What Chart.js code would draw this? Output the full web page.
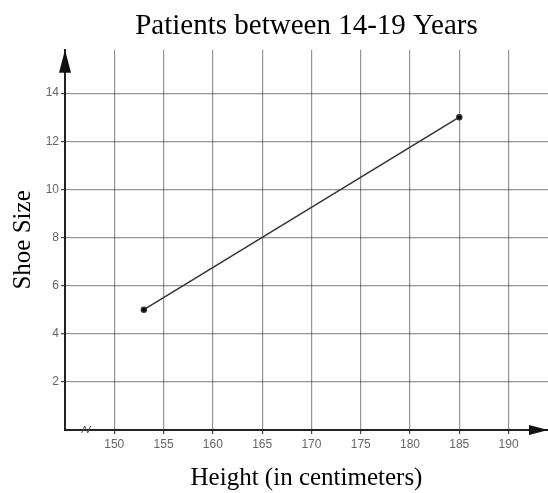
<!DOCTYPE html>
<html>
<head>
<meta charset="utf-8">
<script src="https://cdn.jsdelivr.net/npm/chart.js@4/dist/chart.umd.min.js"></script>
<style>
  body { margin: 0; background: #fff; }
  #wrap { width: 548px; height: 493px; position: relative; }
</style>
</head>
<body>
<div id="wrap"><canvas id="chart"></canvas></div>
<script>
// data
const heights = [153, 185];
const shoeSizes = [5, 13];
const xTicks = [150, 155, 160, 165, 170, 175, 180, 185, 190];
const yTicks = [2, 4, 6, 8, 10, 12, 14];
const xBreakAt = 147;

// arrows at the ends of the axes + the little break mark on x
const axisArrows = {
  id: 'axisArrows',
  afterDraw(chart) {
    const ctx = chart.ctx;
    const a = chart.chartArea;
    const x = chart.scales.x;
    ctx.save();
    ctx.fillStyle = '#111';
    // up arrow on y axis
    ctx.beginPath();
    ctx.moveTo(a.left, a.top);
    ctx.lineTo(a.left - 6, a.top + 23);
    ctx.lineTo(a.left + 6, a.top + 23);
    ctx.closePath();
    ctx.fill();
    // right arrow on x axis
    ctx.beginPath();
    ctx.moveTo(a.right, a.bottom);
    ctx.lineTo(a.right - 19, a.bottom - 5);
    ctx.lineTo(a.right - 19, a.bottom + 5);
    ctx.closePath();
    ctx.fill();
    // axis break
    const bx = x.getPixelForValue(xBreakAt);
    ctx.strokeStyle = '#555';
    ctx.lineWidth = 1;
    ctx.beginPath();
    ctx.moveTo(bx - 3, a.bottom + 3);
    ctx.lineTo(bx, a.bottom - 4);
    ctx.lineTo(bx + 3, a.bottom + 3);
    ctx.lineTo(bx + 6, a.bottom - 4);
    ctx.stroke();
    ctx.restore();
  }
};

const gridColor = 'rgba(0,0,0,0.42)';
const tickFont = { family: 'Liberation Sans', size: 12 };
const titleFont = { family: 'Liberation Serif', size: 25, weight: 'normal' };

new Chart(document.getElementById('chart').getContext('2d'), {
  type: 'scatter',
  data: {
    datasets: [{
      data: heights.map((h, i) => ({ x: h, y: shoeSizes[i] })),
      showLine: true,
      borderColor: '#333',
      borderWidth: 1.5,
      backgroundColor: '#000',
      pointRadius: 2.5,
      pointHoverRadius: 2.5
    }]
  },
  options: {
    responsive: true,
    maintainAspectRatio: false,
    animation: false,
    layout: { padding: 0, autoPadding: false },
    plugins: {
      legend: { display: false },
      tooltip: { enabled: false },
      title: {
        display: true,
        text: 'Patients between 14-19 Years',
        fullSize: false,
        color: '#000',
        font: { family: 'Liberation Serif', size: 29, weight: 'normal' },
        padding: { top: 9, bottom: 6 }
      }
    },
    scales: {
      x: {
        type: 'linear',
        min: 145,
        max: 194,
        afterBuildTicks: s => { s.ticks = s.ticks.filter(t => xTicks.includes(t.value)); },
        afterFit: s => { s.height = 63; },
        ticks: { stepSize: 5, color: '#666', font: tickFont, padding: 3, maxRotation: 0 },
        grid: { color: gridColor, lineWidth: 1.2, tickLength: 4, tickColor: '#444' },
        border: { color: '#222', width: 2 },
        title: {
          display: true,
          text: 'Height (in centimeters)',
          color: '#000',
          font: titleFont,
          padding: { top: 0, bottom: 0 }
        }
      },
      y: {
        min: 0,
        max: 15.8,
        afterBuildTicks: s => { s.ticks = s.ticks.filter(t => yTicks.includes(t.value)); },
        afterFit: s => { s.width = 65; },
        ticks: { stepSize: 2, color: '#666', font: tickFont, padding: 2 },
        grid: { color: gridColor, lineWidth: 1.2, tickLength: 4, tickColor: '#444' },
        border: { color: '#222', width: 2 },
        title: {
          display: true,
          text: 'Shoe Size',
          color: '#000',
          font: titleFont,
          padding: { top: 8, bottom: 0 }
        }
      }
    }
  },
  plugins: [axisArrows]
});
</script>
</body>
</html>
